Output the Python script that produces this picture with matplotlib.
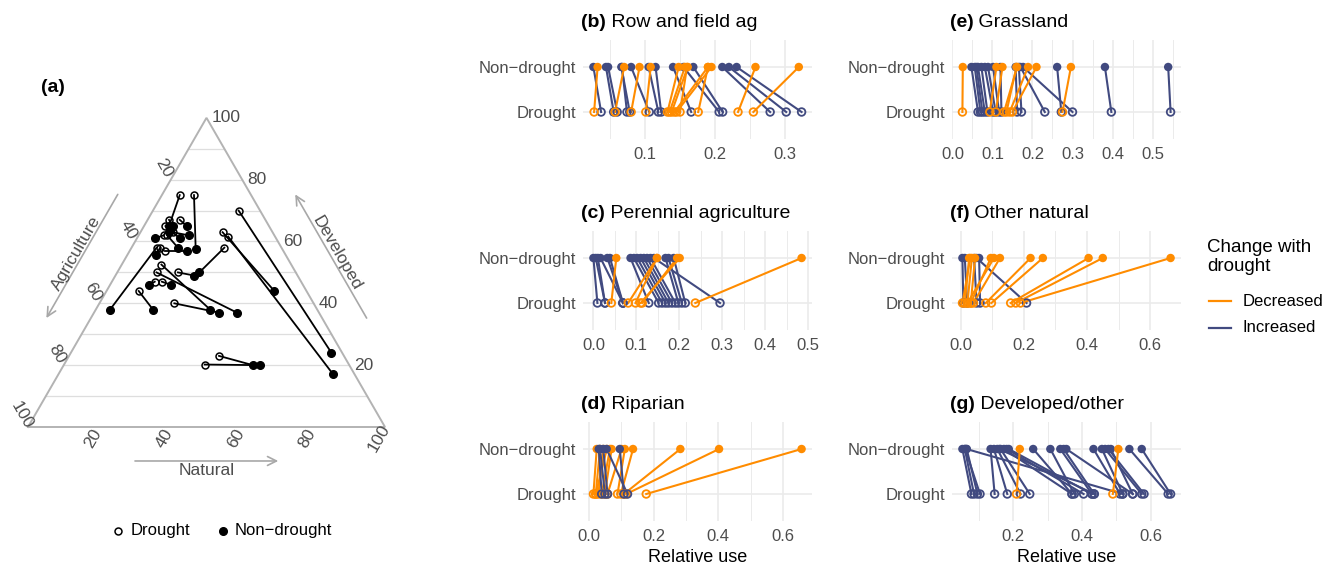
import matplotlib
matplotlib.use('Agg')
import matplotlib.pyplot as plt
from matplotlib.lines import Line2D
from matplotlib.ticker import MultipleLocator, FormatStrFormatter
import numpy as np

plt.rcParams['font.family'] = ['Liberation Sans', 'DejaVu Sans']

# ---------------- data ----------------
# (a) ternary compositions, percent: Agriculture / Developed / Natural
tern_drought_agri = [6, 14, 13, 16, 36, 39, 39, 47, 35, 35, 40, 20, 16, 33, 39, 41, 33, 27, 24, 29, 31, 28, 30, 28, 34]
tern_drought_dev = [70, 63, 61, 58, 52, 50, 40, 44, 58, 23, 20, 75, 75, 57, 47, 47, 50, 67, 67, 65, 62, 63, 62, 64, 58]
tern_drought_nat = [24, 23, 25, 26, 11, 11, 21, 9, 7, 42, 39, 5, 9, 10, 14, 12, 17, 6, 9, 6, 7, 9, 8, 8, 8]
tern_nondrought_agri = [3, 9, 6, 27, 30, 23, 28, 46, 58, 27, 25, 28, 24, 27, 37, 43, 29, 27, 23, 27, 34, 24, 29, 29, 36]
tern_nondrought_dev = [24, 44, 17, 50, 38, 37, 37, 38, 38, 20, 20, 65, 57, 57, 46, 46, 49, 65, 65, 61, 61, 62, 58, 63, 55]
tern_nondrought_nat = [73, 47, 77, 23, 32, 40, 35, 16, 4, 53, 55, 7, 18, 16, 17, 11, 22, 8, 12, 12, 5, 14, 13, 8, 8]
tern_ticks = [20, 40, 60, 80, 100]

# (b)-(g) relative use, non-drought vs drought (paired)
b_nondrought = [0.026, 0.044, 0.047, 0.067, 0.066, 0.080, 0.105, 0.115, 0.140, 0.155, 0.169, 0.2105, 0.220, 0.231,
                0.032, 0.070, 0.092, 0.108, 0.148, 0.157, 0.161, 0.190, 0.195, 0.160, 0.190, 0.258, 0.320]
b_drought = [0.037, 0.055, 0.060, 0.074, 0.078, 0.106, 0.119, 0.123, 0.166, 0.206, 0.211, 0.279, 0.302, 0.324,
             0.027, 0.057, 0.080, 0.101, 0.132, 0.135, 0.138, 0.142, 0.145, 0.150, 0.176, 0.233, 0.255]

c_nondrought = [0.0, 0.0054, 0.0104, 0.0166, 0.0325, 0.0386, 0.141, 0.0865, 0.0943, 0.102, 0.110, 0.1175, 0.125, 0.133,
                0.168, 0.175, 0.187, 0.0533, 0.148, 0.148, 0.201, 0.195, 0.485]
c_drought = [0.0093, 0.027, 0.027, 0.0688, 0.0688, 0.0688, 0.295, 0.129, 0.152, 0.160, 0.168, 0.175, 0.183, 0.191,
             0.198, 0.206, 0.214, 0.0417, 0.081, 0.098, 0.110, 0.1136, 0.2374]

d_nondrought = [0.0237, 0.0339, 0.044, 0.0646, 0.0697, 0.1004, 0.1107, 0.136, 0.2826, 0.4024, 0.658, 0.055,
                0.0339, 0.0544, 0.095, 0.030, 0.044]
d_drought = [0.0134, 0.0206, 0.0288, 0.039, 0.049, 0.057, 0.088, 0.0984, 0.108, 0.115, 0.177, 0.0206,
             0.049, 0.119, 0.108, 0.039, 0.057]

e_nondrought = [0.0475, 0.0558, 0.060, 0.064, 0.0725, 0.081, 0.089, 0.1016, 0.120, 0.158, 0.166, 0.170, 0.1766,
                0.2616, 0.381, 0.539, 0.026, 0.110, 0.125, 0.1616, 0.189, 0.210, 0.296, 0.160]
e_drought = [0.064, 0.070, 0.075, 0.081, 0.0875, 0.1016, 0.108, 0.1166, 0.1225, 0.1616, 0.1725, 0.2308, 0.300,
             0.272, 0.397, 0.545, 0.025, 0.0933, 0.1085, 0.129, 0.143, 0.150, 0.275, 0.135]

f_nondrought = [0.005, 0.0126, 0.050, 0.058, 0.042, 0.0263, 0.035, 0.045, 0.095, 0.105, 0.124, 0.221, 0.260,
                0.405, 0.450, 0.665, 0.030]
f_drought = [0.008, 0.020, 0.2084, 0.061, 0.050, 0.0126, 0.021, 0.0316, 0.0316, 0.021, 0.040, 0.079, 0.097,
             0.158, 0.174, 0.189, 0.0053]

g_nondrought = [0.052, 0.0589, 0.0646, 0.060, 0.064, 0.134, 0.1438, 0.1536, 0.163, 0.1728, 0.1806, 0.187, 0.160,
                0.258, 0.308, 0.337, 0.3467, 0.3545, 0.4336, 0.458, 0.4675, 0.477, 0.484, 0.538, 0.574, 0.219, 0.506]
g_drought = [0.0783, 0.0858, 0.0957, 0.1032, 0.5188, 0.1458, 0.1826, 0.2212, 0.248, 0.371, 0.4048, 0.429, 0.4356,
             0.371, 0.3777, 0.429, 0.4356, 0.5478, 0.511, 0.5188, 0.574, 0.5806, 0.5478, 0.651, 0.658, 0.2096, 0.4899]

panel_tags = ['(b)', '(c)', '(d)', '(e)', '(f)', '(g)']
panel_names = ['Row and field ag', 'Perennial agriculture', 'Riparian', 'Grassland', 'Other natural', 'Developed/other']
panel_major = [0.1, 0.1, 0.2, 0.1, 0.2, 0.2]
y_labels = ['Drought', 'Non\u2212drought']
legend_labels = ['Decreased', 'Increased']

# ---------------- styling ----------------
ORANGE = '#FF8C00'
NAVY = '#414A80'
GRID = '#EBEBEB'
TXT = '#4D4D4D'

W, H = 1332, 566
fig = plt.figure(figsize=(W / 100, H / 100), dpi=100)


def px_axes(x0, y0, x1, y1):
    return fig.add_axes([x0 / W, 1 - y1 / H, (x1 - x0) / W, (y1 - y0) / H])


# ---------------- (a) ternary ----------------
S = np.sqrt(3) / 2
axt = px_axes(0, 60, 420, 566)
axt.set_xlim((0 - 28) / 357, (420 - 28) / 357)
axt.set_ylim((427 - 566) / 357, (427 - 60) / 357)
axt.axis('off')


def proj(a, d, n):
    a, d, n = (np.asarray(v, float) for v in (a, d, n))
    tot = a + d + n
    return n / tot + d / tot / 2, d / tot * S


# grid (developed levels)
for lev in np.arange(0.1, 0.95, 0.1):
    axt.plot([lev / 2, 1 - lev / 2], [lev * S, lev * S], color='#DEDEDE', lw=0.9, zorder=1)
axt.plot([0, 1, 0.5, 0], [0, 0, S, 0], color='#B3B3B3', lw=1.4, zorder=2, solid_joinstyle='miter')

pix = 1 / 357
for v in tern_ticks:
    f = v / 100
    # developed, right side
    axt.text(1 - f / 2 + 5 * pix, f * S, str(v), ha='left', va='center', fontsize=12.5, color=TXT)
    # agriculture, left side
    dd = 1 - f
    axt.text(dd / 2 - 0.5 * 13 * pix, dd * S + S * 13 * pix, str(v), ha='center', va='center',
             rotation=-60, fontsize=12.5, color=TXT)
    # natural, bottom
    axt.text(f - 0.5 * 13 * pix, -S * 13 * pix, str(v), ha='center', va='center',
             rotation=60, fontsize=12.5, color=TXT)

ARR = '#A8A8A8'
arrow_kw = dict(arrowstyle='->', color=ARR, lw=1.2, mutation_scale=16, shrinkA=0, shrinkB=0)
off, loff = 0.108, 0.126
# Agriculture (left side, pointing down)
p0 = (0.69 / 2 - S * off, 0.69 * S + 0.5 * off)
p1 = (0.29 / 2 - S * off, 0.29 * S + 0.5 * off)
axt.annotate('', xy=p1, xytext=p0, arrowprops=arrow_kw)
axt.text(0.49 / 2 - S * loff, 0.49 * S + 0.5 * loff, 'Agriculture', rotation=60, ha='center', va='center',
         fontsize=12.5, color=TXT, rotation_mode='anchor')
# Developed (right side, pointing up)
q0 = (1 - 0.29 / 2 + S * off, 0.29 * S + 0.5 * off)
q1 = (1 - 0.69 / 2 + S * off, 0.69 * S + 0.5 * off)
axt.annotate('', xy=q1, xytext=q0, arrowprops=arrow_kw)
axt.text(1 - 0.49 / 2 + S * loff, 0.49 * S + 0.5 * loff, 'Developed', rotation=-60, ha='center', va='center',
         fontsize=12.5, color=TXT, rotation_mode='anchor')
# Natural (bottom, pointing right)
axt.annotate('', xy=(0.701, -0.0952), xytext=(0.2997, -0.0952), arrowprops=arrow_kw)
axt.text(0.5006, -0.1225, 'Natural', ha='center', va='center', fontsize=12.5, color=TXT)

xd, yd = proj(tern_drought_agri, tern_drought_dev, tern_drought_nat)
xn, yn = proj(tern_nondrought_agri, tern_nondrought_dev, tern_nondrought_nat)
for i in range(len(xd)):
    axt.plot([xd[i], xn[i]], [yd[i], yn[i]], color='black', lw=1.3, zorder=3)
axt.plot(xd, yd, 'o', ms=5, mfc='none', mec='black', mew=1.1, zorder=4, ls='none')
axt.plot(xn, yn, 'o', ms=5.5, mfc='black', mec='black', zorder=5, ls='none')

fig.text(41 / W, 1 - 88 / H, '(a)', fontsize=14, fontweight='bold', ha='left', va='center')

# ternary legend
fig.add_artist(Line2D([118 / W], [1 - 531 / H], marker='o', ms=5, mfc='none', mec='black', mew=1.1,
                      ls='none', transform=fig.transFigure))
fig.add_artist(Line2D([223 / W], [1 - 531 / H], marker='o', ms=5.5, mfc='black', mec='black',
                      ls='none', transform=fig.transFigure))
fig.text(131 / W, 1 - 531 / H, 'Drought', fontsize=12, ha='left', va='center')
fig.text(235 / W, 1 - 531 / H, 'Non\u2212drought', fontsize=12, ha='left', va='center')

# ---------------- (b)-(g) panels ----------------
panel_nd = [b_nondrought, c_nondrought, d_nondrought, e_nondrought, f_nondrought, g_nondrought]
panel_d = [b_drought, c_drought, d_drought, e_drought, f_drought, g_drought]
col_left = [583, 583, 583, 952, 952, 952]
row_top = [40, 231, 422, 40, 231, 422]

for k in range(6):
    x0, y0 = col_left[k], row_top[k]
    ax = px_axes(x0, y0, x0 + 229, y0 + 99)
    nd = np.asarray(panel_nd[k])
    dr = np.asarray(panel_d[k])
    cols = [ORANGE if dv < nv else NAVY for nv, dv in zip(nd, dr)]
    for nv, dv, c in zip(nd, dr, cols):
        ax.plot([dv, nv], [1, 2], color=c, lw=1.5, zorder=3)
    ax.scatter(dr, np.ones_like(dr), s=30, facecolors='none', edgecolors=cols, linewidths=1.3, zorder=4)
    ax.scatter(nd, 2 * np.ones_like(nd), s=37, c=cols, edgecolors='none', zorder=5)
    allv = np.concatenate([nd, dr])
    lo, hi = allv.min(), allv.max()
    pad = 0.05 * (hi - lo)
    ax.set_xlim(lo - pad, hi + pad)
    ax.set_ylim(0.4, 2.6)
    ax.set_yticks([1, 2])
    ax.set_yticklabels(y_labels)
    ax.xaxis.set_major_locator(MultipleLocator(panel_major[k]))
    ax.xaxis.set_minor_locator(MultipleLocator(panel_major[k] / 2))
    ax.xaxis.set_major_formatter(FormatStrFormatter('%.1f'))
    ax.grid(which='major', color=GRID, lw=1.2, zorder=0)
    ax.grid(which='minor', axis='x', color=GRID, lw=0.7, zorder=0)
    ax.set_axisbelow(True)
    for sp in ax.spines.values():
        sp.set_visible(False)
    ax.tick_params(which='both', length=0, labelsize=12, labelcolor=TXT)
    ax.tick_params(axis='x', pad=6)
    ax.tick_params(axis='y', pad=5)
    t1 = ax.text(-0.01, 1 + 13 / 99, panel_tags[k], transform=ax.transAxes, fontsize=14, fontweight='bold',
                 ha='left', va='baseline')
    ax.annotate(' ' + panel_names[k], xy=(1, 0), xycoords=t1, fontsize=14, ha='left', va='bottom')
    if k in (2, 5):
        ax.set_xlabel('Relative use', fontsize=13, labelpad=3)

# ---------------- change legend ----------------
fig.text(1207 / W, 1 - 257 / H, 'Change with\ndrought', fontsize=13.5, ha='left', va='center', linespacing=1.1)
for lab, c, yy in zip(legend_labels, [ORANGE, NAVY], [301, 328]):
    fig.add_artist(Line2D([1209 / W, 1231 / W], [1 - yy / H, 1 - yy / H], color=c, lw=1.6,
                          transform=fig.transFigure))
    fig.text(1243 / W, 1 - yy / H, lab, fontsize=12, ha='left', va='center')

fig.savefig('out.png', dpi=100)
